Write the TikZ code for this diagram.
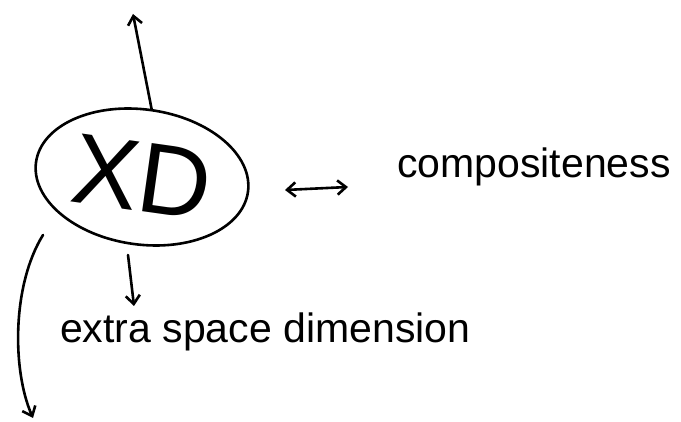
\documentclass[tikz,border=0pt]{standalone}
\usepackage{fontspec}
\setmainfont{Liberation Sans}
\usetikzlibrary{positioning,arrows.meta,shapes.geometric}
\tikzset{
  flow/.style={-{Straight Barb[length=3mm,width=5mm]},line width=2.6pt,line cap=round},
  bothflow/.style={{Straight Barb[length=3mm,width=5mm]}-{Straight Barb[length=3mm,width=5mm]},line width=2.6pt,line cap=round},
  blob/.style={ellipse,draw,line width=2.6pt,minimum width=214pt,minimum height=135pt,inner sep=0pt},
  note/.style={font=\fontsize{41}{44}\selectfont,inner sep=0pt}
}

\begin{document}
\begin{tikzpicture}[x=1pt,y=-1pt]
  \useasboundingbox (0,0) rectangle (681,422);
  \node[blob,rotate=-8] (xd) at (142,177) {\fontsize{100}{100}\selectfont XD};
  \node[note,anchor=west] (comp) at (397,167) {compositeness};
  \node[note,anchor=west] (extra) at (60,332) {extra space dimension};
  % free ends
  \coordinate (top) at (133,14);
  \coordinate (dipstart) at (128,255);
  \coordinate (dipend) at (134,306);
  \coordinate (lr) at (285,190);
  \coordinate (rr) at (348,187);
  \coordinate (swingstart) at (43,235);
  \coordinate (swingend) at (33,418);
  \draw[flow] (xd.north) -- (top);
  \draw[flow] (dipstart) -- (dipend);
  \draw[bothflow] (lr) -- (rr);
  \draw[flow] (swingstart) .. controls (12,285) and (12,370) .. (swingend);
\end{tikzpicture}
\end{document}
